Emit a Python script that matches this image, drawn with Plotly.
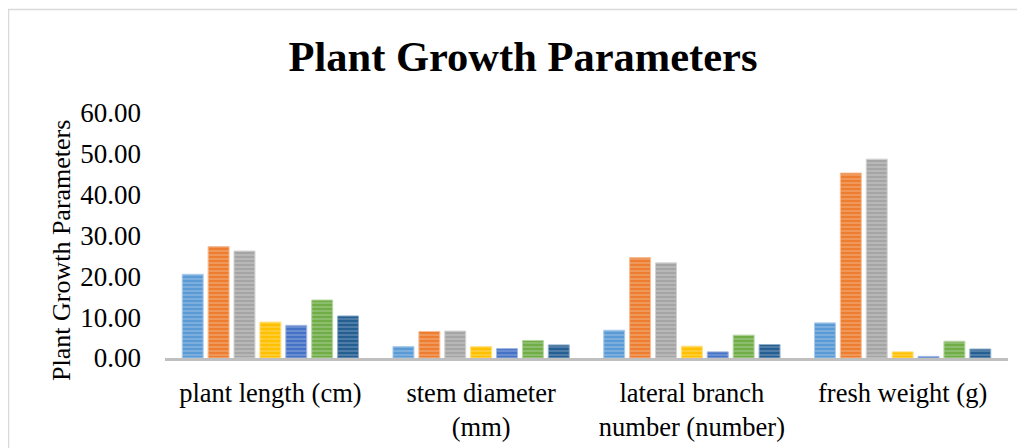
import plotly.graph_objects as go

categories = ["plant length (cm)", "stem diameter<br>(mm)", "lateral branch<br>number (number)", "fresh weight (g)"]
series_names = ["T1", "T2", "T3", "T4", "T5", "T6", "T7"]
t1 = [20.5, 2.8, 6.8, 8.6]
t2 = [27.3, 6.5, 24.6, 45.3]
t3 = [26.2, 6.6, 23.3, 48.7]
t4 = [8.8, 2.8, 2.9, 1.5]
t5 = [8.0, 2.3, 1.5, 0.4]
t6 = [14.2, 4.3, 5.6, 4.1]
t7 = [10.3, 3.2, 3.3, 2.2]
series_values = [t1, t2, t3, t4, t5, t6, t7]
y_ticks = [0, 10, 20, 30, 40, 50, 60]

colors = ["#5B9BD5", "#ED7D31", "#A5A5A5", "#FFC000", "#4472C4", "#70AD47", "#255E91"]
light = ["#A9CBEA", "#F6BE98", "#D2D2D2", "#FFDF80", "#A1B8E2", "#B7D6A3", "#92AEC8"]

FONT = "Liberation Serif, Times New Roman, serif"

fig = go.Figure()
for name, vals, c, lc in zip(series_names, series_values, colors, light):
    fig.add_trace(go.Bar(
        name=name, x=categories, y=vals,
        marker=dict(color=c,
                    line=dict(color=lc, width=1),
                    pattern=dict(shape="-", size=4, solidity=0.4,
                                 fgcolor=lc, bgcolor=c, fillmode="overlay")),
        showlegend=False,
    ))

OFF = 8  # page body offset of the figure on screen
W, H = 1025, 448
L, R, T, B = 165 - OFF, W - (1008 - OFF), 113 - OFF, H - (358 - OFF)
pw, ph = W - L - R, H - T - B

def px_x(x):
    return (x - OFF - L) / pw

def px_y(y):
    return (H - B - (y - OFF)) / ph

fig.update_layout(
    width=W, height=H,
    margin=dict(l=L, r=R, t=T, b=B),
    paper_bgcolor="white", plot_bgcolor="white",
    barmode="group", bargap=0.14, bargroupgap=0.19,
    font=dict(family=FONT, size=26, color="#000000"),
    title=dict(text="<b>Plant Growth Parameters</b>", x=(523 - OFF) / W, xanchor="center",
               y=1 - (56 - OFF) / H, yanchor="middle", yref="container",
               font=dict(family=FONT, size=42.5, color="#000000")),
    xaxis=dict(showline=True, linecolor="#BFBFBF", linewidth=3, showgrid=False,
               ticks="", tickfont=dict(family=FONT, size=26.5, color="#000000"),
               ticklabelstandoff=9),
    yaxis=dict(range=[0, 60], tickvals=y_ticks, tickformat=".2f", showgrid=False,
               zeroline=False, showline=False, ticks="",
               tickfont=dict(family=FONT, size=27, color="#000000"),
               ticklabelstandoff=23),
    annotations=[dict(text="Plant Growth Parameters", textangle=-90, xref="paper", yref="paper",
                      x=px_x(61), y=px_y(251), xanchor="center", yanchor="middle",
                      showarrow=False, font=dict(family=FONT, size=26, color="#000000"))],
    shapes=[
        dict(type="line", xref="paper", yref="paper", x0=px_x(8), x1=px_x(1040),
             y0=px_y(9.5), y1=px_y(9.5), line=dict(color="#D9D9D9", width=1.5)),
        dict(type="line", xref="paper", yref="paper", x0=px_x(8.5), x1=px_x(8.5),
             y0=px_y(9.5), y1=px_y(470), line=dict(color="#D9D9D9", width=1.5)),
    ],
)

fig.write_html("out.html")
